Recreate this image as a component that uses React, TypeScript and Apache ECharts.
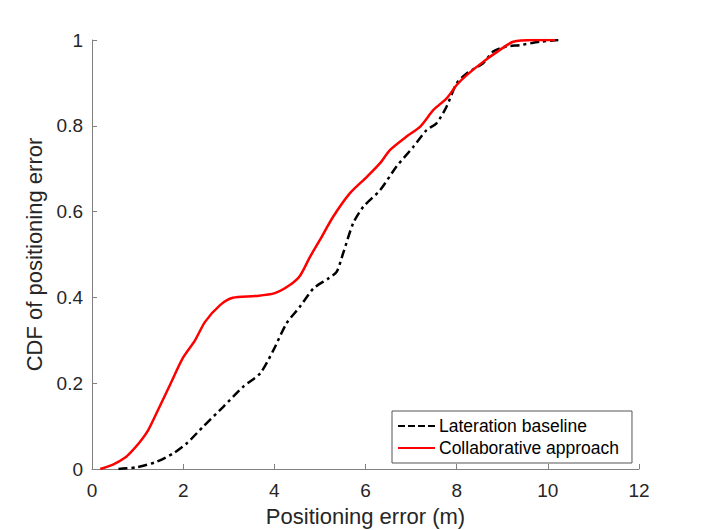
import React, { useEffect, useRef } from "react";
import * as echarts from "echarts";

const lateX = [0.58, 0.98, 1.42, 1.79, 2.08, 2.44, 2.88, 3.32, 3.69, 3.98, 4.27, 4.56, 4.86, 5.2, 5.37, 5.51, 5.73, 5.95, 6.32, 6.68, 7.05, 7.34, 7.56, 7.78, 8.0, 8.22, 8.58, 8.8, 9.1, 9.39, 9.83, 10.23];
const lateY = [0.0, 0.004, 0.017, 0.037, 0.06, 0.099, 0.145, 0.192, 0.223, 0.277, 0.34, 0.378, 0.421, 0.445, 0.46, 0.503, 0.573, 0.611, 0.65, 0.705, 0.751, 0.79, 0.806, 0.845, 0.899, 0.922, 0.946, 0.973, 0.985, 0.988, 0.996, 1.0];

const collabX = [0.18, 0.46, 0.72, 0.86, 1.05, 1.23, 1.49, 1.71, 2.0, 2.26, 2.48, 2.81, 3.09, 3.58, 4.01, 4.34, 4.56, 4.78, 5.0, 5.29, 5.66, 6.03, 6.32, 6.54, 6.9, 7.2, 7.49, 7.78, 8.0, 8.22, 8.58, 8.95, 9.24, 9.68, 10.16];
const collabY = [0.0, 0.01, 0.026, 0.04, 0.063, 0.09, 0.147, 0.196, 0.26, 0.3, 0.343, 0.382, 0.399, 0.403, 0.41, 0.429, 0.45, 0.494, 0.534, 0.588, 0.643, 0.681, 0.713, 0.744, 0.775, 0.798, 0.837, 0.864, 0.895, 0.918, 0.949, 0.977, 0.996, 1.0, 1.0];

const yTicks = [0, 0.2, 0.4, 0.6, 0.8, 1];

const FONT = "Liberation Sans, Arial, Helvetica, sans-serif";
const TEXT = "#262626";
const AXIS = "#808080";

const DASH_ICON = "path://M0,0h7v2h-7z M10,0h7v2h-7z M20,0h7v2h-7z M30,0h7v2h-7z";
const SOLID_ICON = "path://M0,0h37v2h-37z";

export default function App() {
  const ref = useRef<HTMLDivElement>(null);
  useEffect(() => {
    if (!ref.current) return;
    const chart = echarts.init(ref.current, undefined, { renderer: "svg" });
    const zip = (xs: number[], ys: number[]) => xs.map((x, i) => [x, ys[i]]);
    chart.setOption({
      animation: false,
      backgroundColor: "#ffffff",
      textStyle: { fontFamily: FONT },
      grid: { left: 92, right: 67, top: 40, bottom: 61, containLabel: false, outerBoundsMode: "none" },
      legend: {
        orient: "vertical",
        left: 392,
        top: 411,
        itemWidth: 37,
        itemHeight: 2,
        itemGap: 4,
        padding: [6, 13, 6, 6],
        borderColor: "#555555",
        borderWidth: 1,
        backgroundColor: "#ffffff",
        textStyle: { fontFamily: FONT, fontSize: 17.5, color: "#000000", padding: [0, 0, 0, -1] },
        data: [
          { name: "Lateration baseline", icon: DASH_ICON, itemStyle: { color: "#000000" } },
          { name: "Collaborative approach", icon: SOLID_ICON, itemStyle: { color: "#ff0000" } },
        ],
      },
      xAxis: {
        type: "value",
        min: 0,
        max: 12,
        interval: 2,
        name: "Positioning error (m)",
        nameLocation: "middle",
        nameGap: 36,
        nameTextStyle: { fontFamily: FONT, fontSize: 22, color: TEXT },
        axisLine: { lineStyle: { color: AXIS, width: 1 } },
        axisTick: { inside: true, length: 5, lineStyle: { color: AXIS } },
        axisLabel: { fontFamily: FONT, fontSize: 19, color: TEXT, margin: 12 },
        splitLine: { show: false },
      },
      yAxis: {
        type: "value",
        min: 0,
        max: 1,
        interval: 0.2,
        name: "CDF of positioning error",
        nameLocation: "middle",
        nameGap: 38,
        nameTextStyle: { fontFamily: FONT, fontSize: 22, color: TEXT },
        axisLine: { show: true, lineStyle: { color: AXIS, width: 1 } },
        axisTick: { show: true, inside: true, length: 5, lineStyle: { color: AXIS } },
        axisLabel: {
          fontFamily: FONT,
          fontSize: 19,
          color: TEXT,
          margin: 9,
          formatter: (v: number) => {
            const r = Math.round(v * 10) / 10;
            return yTicks.includes(r) ? String(r) : "";
          },
        },
        splitLine: { show: false },
      },
      series: [
        {
          name: "Lateration baseline",
          type: "line",
          data: zip(lateX, lateY),
          showSymbol: false,
          symbol: "none",
          smooth: 0.25,
          lineStyle: { color: "#000000", width: 2.5, type: [9, 4, 3, 4] },
          itemStyle: { color: "#000000" },
          z: 2,
        },
        {
          name: "Collaborative approach",
          type: "line",
          data: zip(collabX, collabY),
          showSymbol: false,
          symbol: "none",
          smooth: 0.25,
          lineStyle: { color: "#ff0000", width: 2.5 },
          itemStyle: { color: "#ff0000" },
          z: 3,
        },
      ],
    });
    return () => chart.dispose();
  }, []);
  return <div ref={ref} style={{ width: 706, height: 530, position: "absolute", left: 0, top: 0 }} />;
}
